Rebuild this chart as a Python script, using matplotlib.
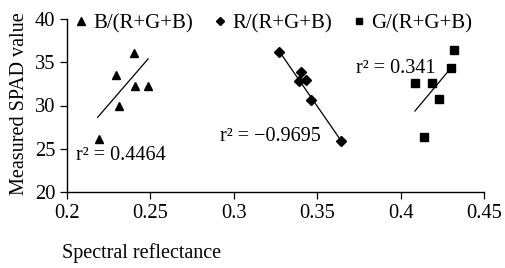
import matplotlib
matplotlib.use("Agg")
import matplotlib.pyplot as plt

plt.rcParams['font.family'] = ['Liberation Serif', 'DejaVu Serif']

# Data
b_x = [0.2192, 0.2294, 0.2310, 0.2402, 0.2410, 0.2484]
b_y = [26.1, 33.5, 29.9, 36.1, 32.3, 32.2]
r_x = [0.3273, 0.3405, 0.3393, 0.3431, 0.3461, 0.3643]
r_y = [36.2, 33.9, 32.8, 32.9, 30.6, 25.9]
g_x = [0.4318, 0.4302, 0.4086, 0.4190, 0.4228, 0.4139]
g_y = [36.4, 34.3, 32.6, 32.6, 30.8, 26.4]

# trend lines (end points)
b_fit_x = [0.2184, 0.2486]
b_fit_y = [28.64, 35.38]
r_fit_x = [0.3273, 0.3643]
r_fit_y = [36.25, 25.93]
g_fit_x = [0.4086, 0.4302]
g_fit_y = [29.36, 34.34]

labels = ['B/(R+G+B)', 'R/(R+G+B)', 'G/(R+G+B)']
r2_text = ['r\u00b2 = 0.4464', 'r\u00b2 = \u22120.9695', 'r\u00b2 = 0.341']
r2_pos = [(0.2054, 23.7), (0.2917, 25.9), (0.3733, 33.76)]

xticks = [0.2, 0.25, 0.3, 0.35, 0.4, 0.45]
xtick_labels = ['0.2', '0.25', '0.3', '0.35', '0.4', '0.45']
yticks = [20, 25, 30, 35, 40]

fig = plt.figure(figsize=(5.06, 2.68), dpi=100)
ax = fig.add_axes([67 / 506, 1 - 192 / 268, 417 / 506, 173 / 268])

h1, = ax.plot(b_x, b_y, '^', color='black', markersize=6.3, linestyle='none')
h2, = ax.plot(r_x, r_y, 'D', color='black', markersize=4.8, linestyle='none')
h3, = ax.plot(g_x, g_y, 's', color='black', markersize=5.2, linestyle='none')

ax.plot(b_fit_x, b_fit_y, color='black', linewidth=0.9)
ax.plot(r_fit_x, r_fit_y, color='black', linewidth=0.9)
ax.plot(g_fit_x, g_fit_y, color='black', linewidth=0.9)

for t, (tx, ty) in zip(r2_text, r2_pos):
    ax.text(tx, ty, t, fontsize=14.5, ha='left', va='baseline')

ax.set_xlim(0.2, 0.45)
ax.set_ylim(20, 40)
ax.set_xticks(xticks)
ax.set_xticklabels(xtick_labels)
ax.set_yticks(yticks)
ax.tick_params(direction='out', length=5, width=0.9, labelsize=14.8, colors='black')

for s in ['top', 'right']:
    ax.spines[s].set_visible(False)
for s in ['left', 'bottom']:
    ax.spines[s].set_linewidth(1.0)

ax.set_ylabel('Measured SPAD value', fontsize=14.5)
ax.yaxis.set_label_coords(-0.09, 0.51)
ax.set_xlabel('Spectral reflectance', fontsize=14.5, loc='left')
ax.xaxis.set_label_coords(-0.012, -0.295)

ax.legend([h1, h2, h3], labels, ncol=3, frameon=False, fontsize=15,
          loc='center left', bbox_to_anchor=(75.8 / 506, 1 - 24 / 268),
          bbox_transform=fig.transFigure, borderpad=0, borderaxespad=0,
          handlelength=0.5, handletextpad=0.33, columnspacing=1.05,
          markerscale=0.85)

fig.savefig('out.png', dpi=100)
